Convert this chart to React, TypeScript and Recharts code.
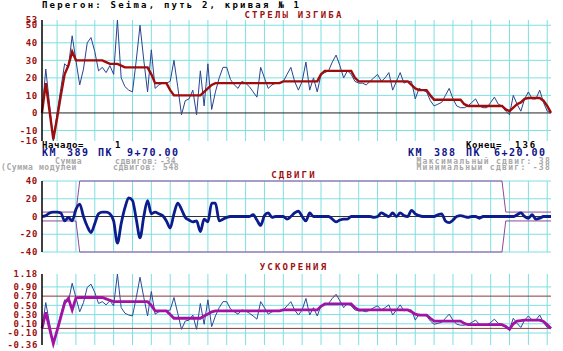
import React from "react";
import { LineChart, Line, XAxis, YAxis, ReferenceLine } from "recharts";

const mono = "'DejaVu Sans Mono', monospace";
const grid = "#7fdfe2";
const tickRed = "#9a1010";

// vertical grid every 5 pickets
const gridX = [5, 10, 15, 20, 25, 30, 35, 40, 45, 50, 55, 60, 65, 70, 75, 80, 85, 90, 95, 100, 105, 110, 115, 120, 125, 130, 135];

// стрелы изгиба
const arrowTicks = [53, 50, 40, 30, 20, 10, 0, -10, -16];
const arrowGrid = [50, 40, 30, 20, 10, -10];
const arrowRaw = [
  0, 25, 5, -16, 0, 14, 28, 26, 44, 30,
  16, 25, 40, 43, 35, 24, 26, 23, 27, 22,
  53, 20, 15, 13, 12, 30, 50, 30, 12, 36,
  14, 16, 17, 17, 18, 30, 15, -1, 7, 8,
  13, -1, 24, 4, 28, 2, 12, 20, 26, 26,
  19, 16, 14, 18, 17, 15, 12, 9, 26, 20,
  14, 16, 17, 17, 18, 22, 26, 18, 13, 18,
  29, 13, 20, 12, 22, 23, 24, 29, 33, 27,
  20, 24, 22, 18, 17, 17, 16, 18, 20, 22,
  18, 20, 23, 13, 18, 23, 17, 18, 18, 8,
  14, 13, 12, 7, 4, 5, 6, 10, 14, 8,
  4, 3, 3, 4, 6, 8, 4, 3, 3, 6,
  9, 5, 4, 1, -1, 10, 5, 1, 8, 12,
  8, 8, 13, 6, 1, 0,
];
const arrowSmooth = [
  0, 17, 1, -15, -3, 10, 22, 27, 35, 30,
  30, 30, 30, 30, 30, 30, 30, 29, 28, 28,
  28, 27, 26, 26, 26, 26, 26, 26, 26, 22,
  17, 17, 17, 17, 13, 10, 10, 10, 10, 10,
  10, 10, 10, 12, 14, 16, 17, 17, 17, 17,
  17, 17, 17, 17, 17, 17, 17, 17, 17, 17,
  17, 17, 17, 17, 18, 18, 18, 18, 18, 18,
  18, 18, 18, 18, 22, 24, 24, 24, 24, 24,
  24, 24, 24, 20, 18, 18, 18, 18, 18, 18,
  18, 18, 18, 18, 18, 18, 18, 18, 16, 14,
  13, 13, 13, 10, 7.5, 7.5, 7.5, 7.5, 7.5, 7.5,
  7.5, 7.5, 5, 4, 4, 4, 4, 4, 4, 4,
  4, 4, 4, 2, 1, 3, 5, 6, 8, 8.5,
  8.5, 8.5, 8.5, 7, 4, 0,
];

// сдвиги
const shiftTicks = [40, 20, 0, -20, -40];
const shiftGrid = [40, 20, -20, -40];
const shifts = [
  0, 1, 4, 5, 5, 4, -5, -1, -5, 8,
  14, 0, -11, -18, -8, 3, 5, 5, 3, -5,
  -30, -8, 10, 21, 18, -3, -24, 0, 18, 3,
  5, 3, 1, -5, -13, 3, 15, 8, -1, -4,
  -6, -5, -17, -3, -6, 15, 15, -5, -3, -1,
  0, 0, 0, 0, 0, 0, 2, -4, -10, 1,
  4, -1, 0, 0, 0, -3, 0, 4, 6, 0,
  -5, 4, 0, 0, 0, 0, 0, -3, -6, -4,
  -3, -3, 0, 0, 0, 0, 0, 0, -1, 0,
  4, 2, 0, 4, 0, 4, 1, 0, 7, 3,
  1, 0, 0, 0, 0, 2, 3, -5, -7, -4,
  0, 1, 0, -1, 0, 0, -2, 0, 0, 0,
  0, 0, 0, 0, 0, 0, 2, 4, 0, -2,
  2, -3, -2, 0, 0, 0,
];
// допуск сдвигов
const limitIdx = [1, 10, 11, 123, 124, 136];
const limitUp = [5, 5, 40, 40, 5, 5];
const limitLo = [-5, -5, -40, -40, -5, -5];

// ускорения
const accTicks = [1.18, 0.9, 0.7, 0.5, 0.3, 0.1, -0.1, -0.36];
const accGrid = [0.9, 0.5, 0.3, 0.1, -0.1];
const accRaw = [
  0, 0.56, 0.11, -0.36, 0, 0.31, 0.62, 0.58, 0.98, 0.67,
  0.36, 0.56, 0.89, 0.96, 0.78, 0.54, 0.58, 0.51, 0.6, 0.49,
  1.18, 0.45, 0.33, 0.29, 0.27, 0.67, 1.11, 0.67, 0.27, 0.8,
  0.31, 0.36, 0.38, 0.38, 0.4, 0.67, 0.33, -0.02, 0.16, 0.18,
  0.29, -0.02, 0.54, 0.09, 0.62, 0.04, 0.27, 0.45, 0.58, 0.58,
  0.42, 0.36, 0.31, 0.4, 0.38, 0.33, 0.27, 0.2, 0.58, 0.45,
  0.31, 0.36, 0.38, 0.38, 0.4, 0.49, 0.58, 0.4, 0.29, 0.4,
  0.65, 0.29, 0.45, 0.27, 0.49, 0.51, 0.54, 0.65, 0.74, 0.6,
  0.45, 0.54, 0.49, 0.4, 0.38, 0.38, 0.36, 0.4, 0.45, 0.49,
  0.4, 0.45, 0.51, 0.29, 0.4, 0.51, 0.38, 0.4, 0.4, 0.18,
  0.31, 0.29, 0.27, 0.16, 0.09, 0.11, 0.13, 0.22, 0.31, 0.18,
  0.09, 0.07, 0.07, 0.09, 0.13, 0.18, 0.09, 0.07, 0.07, 0.13,
  0.2, 0.11, 0.09, 0.02, -0.02, 0.22, 0.11, 0.02, 0.18, 0.27,
  0.18, 0.18, 0.29, 0.13, 0.02, 0,
];
const accSmooth = [
  0, 0.35, 0, -0.33, -0.05, 0.25, 0.55, 0.65, 0.4, 0.66,
  0.67, 0.67, 0.67, 0.67, 0.67, 0.67, 0.67, 0.64, 0.61, 0.58,
  0.58, 0.58, 0.58, 0.58, 0.58, 0.58, 0.58, 0.58, 0.58, 0.5,
  0.38, 0.38, 0.38, 0.38, 0.3, 0.22, 0.22, 0.22, 0.22, 0.22,
  0.22, 0.22, 0.22, 0.27, 0.31, 0.36, 0.38, 0.38, 0.38, 0.38,
  0.38, 0.38, 0.38, 0.38, 0.38, 0.38, 0.38, 0.38, 0.38, 0.38,
  0.38, 0.38, 0.38, 0.38, 0.4, 0.4, 0.4, 0.4, 0.4, 0.4,
  0.4, 0.4, 0.4, 0.4, 0.48, 0.53, 0.53, 0.53, 0.53, 0.53,
  0.53, 0.53, 0.53, 0.45, 0.4, 0.4, 0.4, 0.4, 0.4, 0.4,
  0.4, 0.4, 0.4, 0.4, 0.4, 0.4, 0.4, 0.4, 0.36, 0.31,
  0.29, 0.29, 0.29, 0.22, 0.16, 0.16, 0.16, 0.16, 0.16, 0.16,
  0.16, 0.16, 0.11, 0.08, 0.08, 0.08, 0.08, 0.08, 0.08, 0.08,
  0.08, 0.08, 0.08, 0.04, -0.02, 0.1, 0.16, 0.17, 0.18, 0.18,
  0.18, 0.18, 0.18, 0.15, 0.08, 0,
];

const data = arrowRaw.map((v, k) => ({
  i: k + 1,
  raw: v,
  smooth: arrowSmooth[k],
  shift: shifts[k],
  acc: accRaw[k],
  accS: accSmooth[k],
}));
const limitData = limitIdx.map((i, k) => ({ i, up: limitUp[k], lo: limitLo[k] }));

function Panel({ top, height, mTop, domain, ticks, gridTicks, digits, children }: any) {
  return (
    <div style={{ position: "absolute", left: 0, top }}>
      <LineChart width={563} height={height} data={data} margin={{ top: mTop, right: 12, bottom: 4, left: 0 }}>
        <XAxis type="number" dataKey="i" domain={[1, 136]} hide />
        <YAxis type="number" domain={domain} ticks={ticks} interval={0} width={42}
          tickLine={false} tickSize={0} tickMargin={4}
          tickFormatter={(v: number) => v.toFixed(digits)}
          tick={{ fill: tickRed, fontSize: 9, fontFamily: mono, fontWeight: 700, letterSpacing: 0.7 }}
          axisLine={{ stroke: "#000", strokeWidth: 1.5 }} />
        {gridX.map((x) => (
          <ReferenceLine key={"x" + x} x={x} stroke={grid} strokeWidth={1} zIndex={-50} />
        ))}
        {gridTicks.map((y: number) => (
          <ReferenceLine key={"y" + y} y={y} stroke={grid} strokeWidth={1} zIndex={-50} />
        ))}
        {children}
      </LineChart>
    </div>
  );
}

export default function App() {
  return (
    <div style={{ position: "absolute", left: 0, top: 0, width: 563, height: 351, background: "#fff", overflow: "hidden" }}>
      <Panel top={0} height={145} mTop={20} domain={[-16, 53]} ticks={arrowTicks} gridTicks={arrowGrid} digits={0}>
        <ReferenceLine y={0} stroke="#222" strokeWidth={1} zIndex={-40} />
        <Line type="linear" dataKey="raw" stroke="#28448f" strokeWidth={1} dot={false} isAnimationActive={false} />
        <Line type="linear" dataKey="smooth" stroke="#a00c0c" strokeWidth={2.4} dot={false} isAnimationActive={false} />
      </Panel>
      <Panel top={176} height={80} mTop={5} domain={[-40, 40]} ticks={shiftTicks} gridTicks={shiftGrid} digits={0}>
        <ReferenceLine y={0} stroke="#333" strokeWidth={1} zIndex={-40} />
        <Line data={limitData} type="linear" dataKey="up" stroke="#8e4a9a" strokeWidth={1} dot={false} isAnimationActive={false} />
        <Line data={limitData} type="linear" dataKey="lo" stroke="#8e4a9a" strokeWidth={1} dot={false} isAnimationActive={false} />
        <Line type="monotone" dataKey="shift" stroke="#0b1c8c" strokeWidth={2.8} dot={false} isAnimationActive={false} />
      </Panel>
      <Panel top={268} height={81} mTop={6} domain={[-0.36, 1.18]} ticks={accTicks} gridTicks={accGrid} digits={2}>
        <ReferenceLine y={0.7} stroke="#8a3a3a" strokeWidth={1} zIndex={-40} />
        <ReferenceLine y={0} stroke="#8a3a3a" strokeWidth={1} zIndex={-40} />
        <Line type="linear" dataKey="acc" stroke="#2a4a96" strokeWidth={1} dot={false} isAnimationActive={false} />
        <Line type="linear" dataKey="accS" stroke="#a412a4" strokeWidth={2.8} dot={false} isAnimationActive={false} />
      </Panel>

      <svg width={563} height={351} style={{ position: "absolute", left: 0, top: 0, pointerEvents: "none" }}
        fontFamily={mono} fontWeight="bold">
        <text x={42} y={8} fontSize={9} letterSpacing={2.2} fill="#000">Перегон: Seima, путь 2, кривая № 1</text>
        <text x={294} y={18} textAnchor="middle" fontSize={9} letterSpacing={2.2} fill="#9c1010">СТРЕЛЫ ИЗГИБА</text>

        <text x={42} y={148} fontSize={9} letterSpacing={0.6} fill="#000">Начало=</text>
        <text x={115} y={148} fontSize={9} fill="#000">1</text>
        <g fontSize={10} letterSpacing={1.5} fill="#101488">
          <text x={42} y={156}>КМ</text>
          <text x={67} y={156}>389</text>
          <text x={98} y={156}>ПК</text>
          <text x={127} y={156}>9+70.00</text>
          <text x={408} y={156}>КМ</text>
          <text x={434} y={156}>388</text>
          <text x={466} y={156}>ПК</text>
          <text x={494} y={156}>6+20.00</text>
        </g>
        <text x={466} y={148} fontSize={9} letterSpacing={0.6} fill="#000">Конец=</text>
        <text x={515} y={148} fontSize={9} letterSpacing={2} fill="#000">136</text>

        <g fontSize={8} letterSpacing={0.6} fill="#a8a8a8">
          <text x={55} y={164}>Сумма</text>
          <text x={115} y={164}>сдвигов:</text>
          <text x={160} y={164}>-34</text>
          <text x={1} y={170}>(Сумма модулей</text>
          <text x={113} y={170}>сдвигов:</text>
          <text x={163} y={170}>548</text>
        </g>
        <g fontSize={8} letterSpacing={1.3} fill="#a8a8a8" textAnchor="end">
          <text x={551} y={164}>Максимальный  сдвиг:  38</text>
          <text x={551} y={170}>Минимальный   сдвиг: -38</text>
        </g>

        <text x={294} y={178} textAnchor="middle" fontSize={9} letterSpacing={2.2} fill="#9c1010">СДВИГИ</text>
        <text x={294} y={270} textAnchor="middle" fontSize={9} letterSpacing={2.2} fill="#9c1010">УСКОРЕНИЯ</text>
      </svg>
    </div>
  );
}
